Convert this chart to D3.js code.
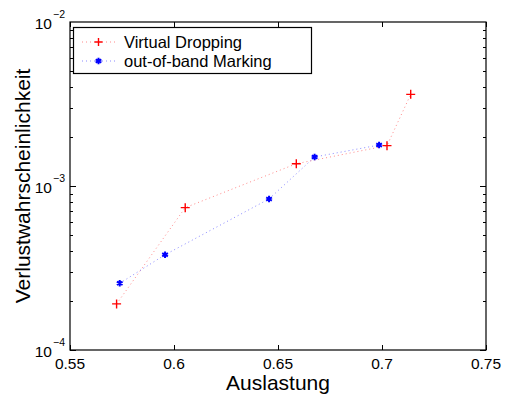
<!DOCTYPE html>
<html><head><meta charset="utf-8">
<script src="https://cdn.jsdelivr.net/npm/d3@7"></script>
<style>
html,body{margin:0;padding:0;background:#fff;}
text{font-family:"Liberation Sans",Arial,Helvetica,sans-serif;}
</style></head>
<body><svg id="c" width="506" height="399"></svg>
<script>
const seriesNames = ["Virtual Dropping", "out-of-band Marking"];
const vdX = [0.5724, 0.6054, 0.6588, 0.7024, 0.7138];
const vdY = [1.91e-4, 7.38e-4, 1.367e-3, 1.762e-3, 3.62e-3];
const obX = [0.5739, 0.5957, 0.6457, 0.6676, 0.6986];
const obY = [2.55e-4, 3.81e-4, 8.34e-4, 1.503e-3, 1.778e-3];
const xTicks = [0.55, 0.6, 0.65, 0.7, 0.75];
const yTickExps = [-4, -3, -2];

const svg = d3.select("#c");
const L = 70, R = 486, T = 22, B = 350;
const x = d3.scaleLinear().domain([0.55, 0.75]).range([L, R]);
const y = d3.scaleLog().domain([1e-4, 1e-2]).range([B, T]);

svg.append("rect").attr("x", L).attr("y", T).attr("width", R - L).attr("height", B - T)
  .attr("fill", "none").attr("stroke", "#000").attr("stroke-width", 1.2);

xTicks.forEach(v => {
  const px = Math.round(x(v)) + 0.5;
  svg.append("line").attr("x1", px).attr("x2", px).attr("y1", B).attr("y2", B - 5).attr("stroke", "#000");
  svg.append("line").attr("x1", px).attr("x2", px).attr("y1", T).attr("y2", T + 5).attr("stroke", "#000");
  svg.append("text").attr("x", x(v)).attr("y", 369).attr("text-anchor", "middle")
    .attr("font-size", 15.5).text(d3.format("")(v));
});

for (let e = -4; e < -2; e++) {
  for (let m = 1; m <= 9; m++) {
    const v = m * Math.pow(10, e);
    const py = Math.round(y(v)) + 0.5;
    const len = m === 1 ? 6 : 3;
    svg.append("line").attr("x1", L).attr("x2", L + len).attr("y1", py).attr("y2", py).attr("stroke", "#000");
    svg.append("line").attr("x1", R).attr("x2", R - len).attr("y1", py).attr("y2", py).attr("stroke", "#000");
  }
}
yTickExps.forEach(e => {
  const py = y(Math.pow(10, e));
  svg.append("text").attr("x", 52).attr("y", py + 7).attr("text-anchor", "end").attr("font-size", 15.5).text("10");
  svg.append("text").attr("x", 53).attr("y", py - 4).attr("font-size", 10.5).text("\u2212" + Math.abs(e));
});

svg.append("text").attr("x", x(0.65)).attr("y", 390).attr("text-anchor", "middle").attr("font-size", 21).text("Auslastung");
svg.append("text").attr("transform", `translate(30,${(T + B) / 2}) rotate(-90)`).attr("text-anchor", "middle")
  .attr("font-size", 21).text("Verlustwahrscheinlichkeit");

const line = d3.line().x(d => x(d[0])).y(d => y(d[1]));
const vd = vdX.map((v, i) => [v, vdY[i]]);
const ob = obX.map((v, i) => [v, obY[i]]);
const redLine = "rgba(255,60,60,0.6)", blueLine = "rgba(60,60,255,0.6)";

svg.append("path").datum(vd).attr("d", line).attr("fill", "none")
  .attr("stroke", redLine).attr("stroke-width", 1).attr("stroke-dasharray", "1,3");
svg.append("path").datum(ob).attr("d", line).attr("fill", "none")
  .attr("stroke", blueLine).attr("stroke-width", 1).attr("stroke-dasharray", "1,3");

svg.selectAll(null).data(ob).enter().append("path")
  .attr("transform", d => `translate(${x(d[0])},${y(d[1])})`)
  .attr("d", d3.symbol().type(d3.symbolAsterisk).size(30)).attr("fill", "none")
  .attr("stroke", "#0000ff").attr("stroke-width", 2);
svg.selectAll(null).data(vd).enter().append("path")
  .attr("d", d => { const cx = x(d[0]), cy = y(d[1]); return `M${cx-4.5},${cy}H${cx+4.5}M${cx},${cy-4.5}V${cy+4.5}`; })
  .attr("stroke", "#ff0000").attr("stroke-width", 1.4).attr("fill", "none");

const lg = svg.append("g");
lg.append("rect").attr("x", 73.5).attr("y", 27.5).attr("width", 238).attr("height", 46)
  .attr("fill", "#fff").attr("stroke", "#000").attr("stroke-width", 1.2);
const rows = [
  {name: seriesNames[0], c: "#ff0000", lc: redLine, yy: 42},
  {name: seriesNames[1], c: "#0000ff", lc: blueLine, yy: 61}
];
rows.forEach((r, i) => {
  lg.append("line").attr("x1", 82).attr("x2", 115).attr("y1", r.yy).attr("y2", r.yy)
    .attr("stroke", r.lc).attr("stroke-dasharray", "1,3");
  if (i === 0) {
    lg.append("path").attr("d", `M${98.5-4},${r.yy}H${98.5+4}M98.5,${r.yy-4}V${r.yy+4}`).attr("stroke", r.c).attr("stroke-width", 1.4);
  } else {
    lg.append("path").attr("transform", `translate(98.5,${r.yy})`).attr("d", d3.symbol().type(d3.symbolAsterisk).size(30))
      .attr("fill", "none").attr("stroke", r.c).attr("stroke-width", 2);
  }
  lg.append("text").attr("x", 124).attr("y", r.yy + 6).attr("font-size", 16.5).text(r.name);
});
</script>
</body></html>
